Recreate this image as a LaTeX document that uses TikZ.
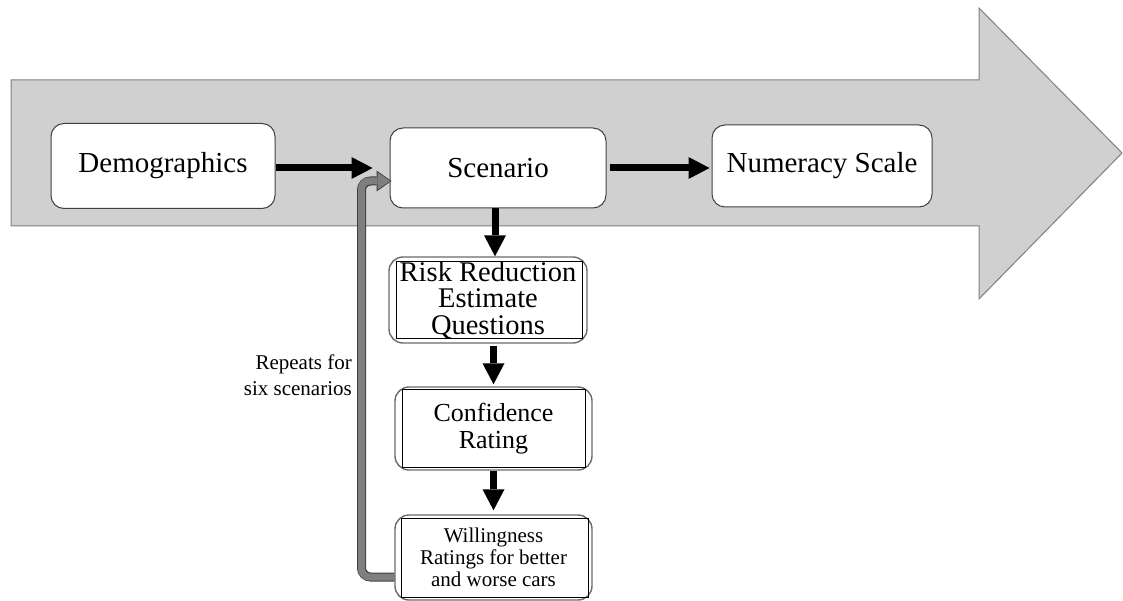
\documentclass[tikz,border=0pt]{standalone}
\usepackage{fontspec}
\setmainfont{Liberation Serif}
\usetikzlibrary{arrows.meta}
\definecolor{bigfill}{HTML}{D0D0D0}
\definecolor{bigline}{HTML}{7F7F7F}
\definecolor{boxline}{HTML}{404040}
\definecolor{dblline}{HTML}{6A6A6A}
\definecolor{loopfill}{HTML}{7F7F7F}
\definecolor{loopline}{HTML}{3F3F3F}
\begin{document}
\begin{tikzpicture}[x=1pt,y=-1pt,
  mainbox/.style={draw=boxline,line width=1pt,fill=white,rounded corners=13pt,inner sep=0pt,align=center,font=\fontsize{29}{26}\selectfont},
  dblbox/.style={draw=dblline,line width=1.4pt,fill=white,rounded corners=14pt,inner sep=0pt,align=center},
  innerrect/.style={draw=black,line width=0.9pt},
  blk/.style={line width=7pt,-{Triangle[length=21pt,width=22pt,line width=0pt]}},
  loopouter/.style={draw=loopline,line width=9pt,rounded corners=9pt,-{Triangle[length=15pt,width=21pt,line width=0pt]}},
  loopinner/.style={draw=loopfill,line width=7pt,rounded corners=8pt,shorten >=1.3pt,-{Triangle[length=12.5pt,width=17pt,line width=0pt]}},
  note/.style={font=\fontsize{21}{26}\selectfont,align=right,anchor=east,inner sep=0pt}
]
\useasboundingbox (0,0) rectangle (1123,601);
% big background arrow
\draw[fill=bigfill,draw=bigline,line width=1pt]
  (11,80) -- (979,80) -- (979,8) -- (1122,153) -- (979,299) -- (979,226) -- (11,226) -- cycle;

% main boxes
\node[mainbox,minimum width=224pt,minimum height=85pt] (demo) at (163,166) {Demographics};
\node[mainbox,minimum width=216pt,minimum height=80pt] (scen) at (498,168) {Scenario};
\node[mainbox,minimum width=220pt,minimum height=82pt] (num) at (822,166) {Numeracy Scale};

% double boxes
\node[dblbox,minimum width=198pt,minimum height=86pt,font=\fontsize{28.5}{26.5}\selectfont] (risk) at (488,300) {Risk Reduction\\Estimate\\Questions};
\draw[innerrect] ([xshift=8pt,yshift=-5pt]risk.north west) rectangle ([xshift=-5pt,yshift=5pt]risk.south east);

\node[dblbox,minimum width=197pt,minimum height=83pt,font=\fontsize{26}{27}\selectfont] (conf) at (493.5,428.5) {Confidence\\Rating};
\draw[innerrect] ([xshift=8pt,yshift=-3pt]conf.north west) rectangle ([xshift=-7pt,yshift=3pt]conf.south east);

\node[dblbox,minimum width=197pt,minimum height=85pt,font=\fontsize{21}{22}\selectfont] (will) at (493.5,557.5) {Willingness\\Ratings for better\\and worse cars};
\draw[innerrect] ([xshift=7pt,yshift=-4pt]will.north west) rectangle ([xshift=-4pt,yshift=3pt]will.south east);

% black arrows
\draw[blk,shorten >=17pt] (demo.east |- scen.west) -- (scen.west);
\draw[blk,shorten <=3pt,shorten >=2pt] (scen.east) -- (scen.east -| num.west);
\draw[blk] ([xshift=-3pt]scen.south) -- ([xshift=-3pt]scen.south |- risk.north);
\draw[blk,shorten <=2pt,shorten >=2pt] (conf.north |- risk.south) -- (conf.north);
\draw[blk,shorten >=4pt] (conf.south) -- (will.north);

% loop back arrow
\draw[loopouter] ([yshift=-19.5pt]will.west) -| ([xshift=-28pt,yshift=-13pt]scen.west) -- ([xshift=2pt,yshift=-13pt]scen.west);
\draw[loopinner] ([yshift=-19.5pt]will.west) -| ([xshift=-28pt,yshift=-13pt]scen.west) -- ([xshift=2pt,yshift=-13pt]scen.west);

\node[note] (rep) at (352,375) {Repeats for\\six scenarios};
\end{tikzpicture}
\end{document}
